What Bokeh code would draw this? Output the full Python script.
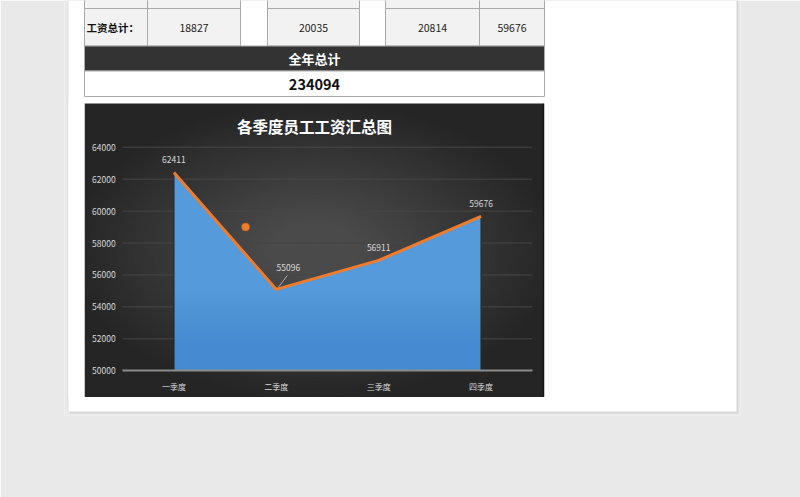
from bokeh.plotting import figure
from bokeh.models import Range1d, LinearAxis, FixedTicker, NumeralTickFormatter
from bokeh.embed import file_html
from bokeh.resources import INLINE
from bokeh.core.properties import value

# ---------------- data ----------------
quarters = ["一季度", "二季度", "三季度", "四季度"]
quarter_totals = [62411, 55096, 56911, 59676]
y_ticks = [50000, 52000, 54000, 56000, 58000, 60000, 62000, 64000]
chart_title = "各季度员工工资汇总图"
table_row_label = "工资总计："
month_totals = [18827, 20035, 20814]
q4_total = 59676
year_label = "全年总计"
year_total = 234094
stray_point_pos = [0.7]
stray_point_val = [59000]

# ---------------- layout constants (pixels) ----------------
W, H = 800, 497
FR_L, FR_R, FR_B = 64, 740, 415          # frame in canvas pixels
PAGE_L, PAGE_R, PAGE_B = 68, 736, 411
CAT0_X, CAT_W = 173.4, 102.4              # canvas x of first category, category step
BASE_Y, PX_PER_VAL = 370.3, 223.6 / 14000  # canvas y of axis base, px per unit
FONT = value("Noto Sans CJK SC")
CJK = "Noto Sans CJK SC"

positions = list(range(len(quarters)))
base = y_ticks[0]

p = figure(width=W, height=H, output_backend="svg", toolbar_location=None,
           x_axis_location=None, y_axis_location=None,
           x_range=Range1d(FR_L, FR_R), y_range=Range1d(FR_B, 0),
           min_border_left=FR_L, min_border_right=W - FR_R,
           min_border_top=0, min_border_bottom=H - FR_B)
p.border_fill_color = "#e9e9e9"
p.background_fill_color = "#e9e9e9"
p.outline_line_color = None
p.grid.visible = False

p.extra_x_ranges = {"cat": Range1d((FR_L - CAT0_X) / CAT_W, (FR_R - CAT0_X) / CAT_W)}
p.extra_y_ranges = {"val": Range1d(base - (FR_B - BASE_Y) / PX_PER_VAL,
                                   base + BASE_Y / PX_PER_VAL)}

# ---------------- page ----------------
p.quad(left=[PAGE_L + 1], right=[PAGE_R + 2], top=[0], bottom=[PAGE_B + 2],
       fill_color="#d6d6d6", line_color=None)
p.quad(left=[PAGE_L - 1], right=[PAGE_L], top=[0], bottom=[PAGE_B],
       fill_color="#dcdcdc", line_color=None)
p.quad(left=[PAGE_L], right=[PAGE_R], top=[0], bottom=[PAGE_B],
       fill_color="white", line_color=None)

# ---------------- chart background (radial-ish gradient) ----------------
CH_L, CH_R, CH_T, CH_B = 84, 543, 103, 396.5
p.quad(left=[CH_L], right=[CH_R], top=[CH_T], bottom=[CH_B],
       fill_color="#252525", line_color=None)
cx, cy = (CH_L + CH_R) / 2, (CH_T + CH_B) / 2
N = 45
for k in range(N):
    f = 1 - k / N
    p.ellipse(x=[cx], y=[cy], width=[(CH_R - CH_L) * 1.05 * f],
              height=[(CH_B - CH_T) * f],
              fill_color="#5e5e5e", fill_alpha=0.026, line_color=None)
# white strips hiding the gradient overflow at the sides
p.quad(left=[PAGE_L, CH_R], right=[CH_L, CH_R + 20], top=[CH_T, CH_T],
       bottom=[CH_B, CH_B], fill_color="white", line_color=None)
p.segment(x0=[CH_R], y0=[CH_T], x1=[CH_R], y1=[CH_B], line_color="#151515", line_width=1.5)

# ---------------- table ----------------
cols = [(84, 147), (147, 240), (267, 359), (385, 479), (479, 544)]
rows = [(-2, 8), (8, 45.5)]
for (t, b) in rows:
    p.quad(left=[c[0] for c in cols], right=[c[1] for c in cols],
           top=[t] * len(cols), bottom=[b] * len(cols),
           fill_color="#f2f2f2", line_color="#a9a9a9", line_width=1)
tbl_l, tbl_r = cols[0][0], cols[-1][1]
p.quad(left=[tbl_l], right=[tbl_r], top=[45.5], bottom=[70.5],
       fill_color="#333333", line_color="#a9a9a9", line_width=1)
p.quad(left=[tbl_l], right=[tbl_r], top=[70.5], bottom=[96],
       fill_color="white", line_color="#a9a9a9", line_width=1)

p.text(x=[cols[0][0] + 2], y=[27], text=[table_row_label], text_font=FONT,
       text_font_size="10.5px", text_font_style="bold", text_color="#111111",
       text_align="left", text_baseline="middle")
num_cells = cols[1:]
num_texts = [str(v) for v in month_totals] + [str(q4_total)]
p.text(x=[(c[0] + c[1]) / 2 for c in num_cells], y=[27] * len(num_cells),
       text=num_texts, text_font=FONT, text_font_size="10.5px",
       text_color="#222222", text_align="center", text_baseline="middle")
p.text(x=[(tbl_l + tbl_r) / 2], y=[58], text=[year_label], text_font=FONT,
       text_font_size="13px", text_font_style="bold", text_color="white",
       text_align="center", text_baseline="middle")
p.text(x=[(tbl_l + tbl_r) / 2], y=[83.5], text=[str(year_total)], text_font=FONT,
       text_font_size="14.5px", text_font_style="bold", text_color="#111111",
       text_align="center", text_baseline="middle")

p.text(x=[cx + 0.5], y=[125], text=[chart_title], text_font=FONT,
       text_font_size="15.5px", text_font_style="bold", text_color="white",
       text_align="center", text_baseline="middle")

# ---------------- chart content (cat / val scales) ----------------
kw = dict(x_range_name="cat", y_range_name="val")
lo, hi = positions[0] - 0.5, positions[-1] + 0.5

# grid lines
gt = y_ticks[1:]
p.segment(x0=[lo] * len(gt), y0=gt, x1=[hi] * len(gt), y1=gt,
          line_color="#474747", line_width=1, **kw)

# area (top colour, then darker shading toward the base)
p.varea(x=positions, y1=[base] * len(positions), y2=quarter_totals,
        fill_color="#559bdc", **kw)
low = min(quarter_totals)
NB = 24
for k in range(1, NB + 1):
    lvl = base + (low - base) * k / NB
    p.quad(left=[positions[0]], right=[positions[-1]], bottom=[base], top=[lvl],
           fill_color="#3f83c8", fill_alpha=0.045, line_color=None, **kw)
p.segment(x0=[positions[0], positions[-1]], y0=[base, base],
          x1=[positions[0], positions[-1]], y1=[quarter_totals[0], quarter_totals[-1]],
          line_color="#2a2a2a", line_width=1.3, **kw)

# line
p.line(positions, quarter_totals, line_color="#ef7b2d", line_width=3,
       line_join="round", **kw)

# stray marker
p.scatter(stray_point_pos, stray_point_val, size=8, fill_color="#ef7b2d",
          line_color="#c25f1c", line_width=0.5, **kw)

# data labels
label_dx = [0, 12, 0, 0]
label_dy = [-13, -22, -13, -13]
p.text(x=positions, y=quarter_totals, text=[str(v) for v in quarter_totals],
       x_offset=label_dx, y_offset=label_dy, text_font=FONT, text_font_size="8.5px",
       text_color="#d9d9d9", text_align="center", text_baseline="middle", **kw)
# leader line for the moved label
li = 1
p.segment(x0=[positions[li] + 2 / CAT_W], y0=[quarter_totals[li] + 2 / PX_PER_VAL],
          x1=[positions[li] + 11 / CAT_W], y1=[quarter_totals[li] + 14 / PX_PER_VAL],
          line_color="#bfbfbf", line_width=0.8, **kw)

# axes
yaxis = LinearAxis(x_range_name="cat", y_range_name="val", fixed_location=lo,
                   ticker=FixedTicker(ticks=y_ticks),
                   formatter=NumeralTickFormatter(format="0"))
yaxis.axis_line_color = None
yaxis.major_tick_line_color = None
yaxis.minor_tick_line_color = None
yaxis.major_tick_out = 0
yaxis.major_label_standoff = 7
yaxis.major_label_text_font = CJK
yaxis.major_label_text_font_size = "8.5px"
yaxis.major_label_text_color = "#d9d9d9"
p.add_layout(yaxis, "left")

xaxis = LinearAxis(x_range_name="cat", y_range_name="val", fixed_location=base,
                   ticker=FixedTicker(ticks=positions),
                   major_label_overrides={i: q for i, q in zip(positions, quarters)},
                   bounds=(lo, hi))
xaxis.axis_line_color = "#8c8c8c"
xaxis.axis_line_width = 1.8
xaxis.major_tick_line_color = None
xaxis.minor_tick_line_color = None
xaxis.major_tick_out = 0
xaxis.major_tick_in = 0
xaxis.major_label_standoff = 10
xaxis.major_label_text_font = CJK
xaxis.major_label_text_font_size = "8px"
xaxis.major_label_text_color = "#d9d9d9"
p.add_layout(xaxis, "below")

open("out.html", "w").write(file_html(p, INLINE))
